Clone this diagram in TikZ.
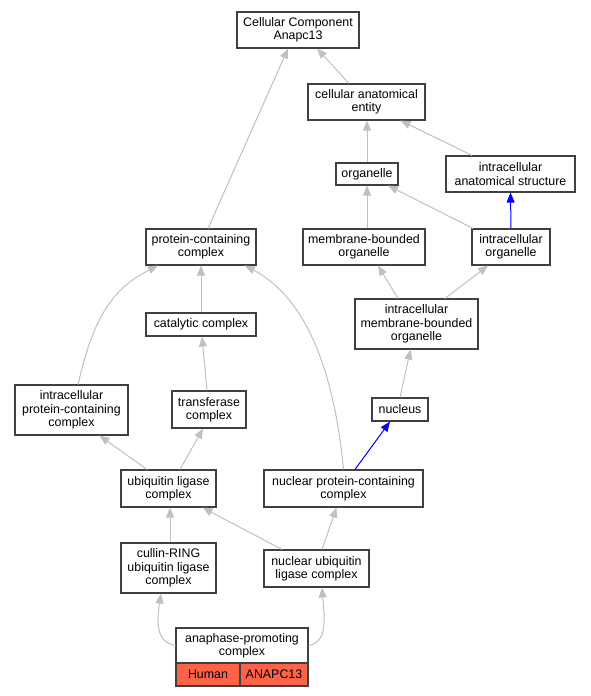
\documentclass[tikz,border=0pt]{standalone}
\usepackage{fontspec}
\setmainfont{Liberation Sans}
\usetikzlibrary{arrows.meta}
\definecolor{edgegrey}{HTML}{C0C0C0}
\definecolor{boxline}{HTML}{404040}
\definecolor{tomatofill}{HTML}{FF6347}
\tikzset{
  box/.style={draw=boxline, line width=1.1pt, fill=white, inner sep=0pt, align=center,
    font=\fontsize{12.4}{13.4}\selectfont},
  edge/.style={draw=edgegrey, line width=1pt, -{Triangle[length=10pt,width=8pt]}},
  bedge/.style={draw=blue, line width=1pt, -{Triangle[length=10pt,width=8pt]}},
  cell/.style={box, fill=tomatofill},
}
\begin{document}
\begin{tikzpicture}[x=1pt,y=-1pt]
\useasboundingbox (0,0) rectangle (591,696);
% nodes
\node[box, minimum width=122pt, minimum height=36pt] (cc) at (298,30) {Cellular Component\\Anapc13};
\node[box, minimum width=117pt, minimum height=36pt] (cae) at (366.5,102) {cellular anatomical\\entity};
\node[box, minimum width=62pt, minimum height=22pt] (org) at (367,174) {organelle};
\node[box, minimum width=129pt, minimum height=36pt] (ias) at (510.5,174) {intracellular\\anatomical structure};
\node[box, minimum width=110pt, minimum height=36pt] (pcc) at (201,247) {protein-containing\\complex};
\node[box, minimum width=122pt, minimum height=36pt] (mbo) at (364,247) {membrane-bounded\\organelle};
\node[box, minimum width=78pt, minimum height=36pt] (io) at (511,247) {intracellular\\organelle};
\node[box, minimum width=110pt, minimum height=23pt] (cat) at (201,324.5) {catalytic complex};
\node[box, minimum width=123pt, minimum height=50pt] (imbo) at (416.5,324) {intracellular\\membrane-bounded\\organelle};
\node[box, minimum width=113pt, minimum height=50pt] (ipcc) at (71.5,410) {intracellular\\protein-containing\\complex};
\node[box, minimum width=74pt, minimum height=37pt] (tc) at (209,409.5) {transferase\\complex};
\node[box, minimum width=56pt, minimum height=23pt] (nuc) at (400,409.5) {nucleus};
\node[box, minimum width=95pt, minimum height=37pt] (ulc) at (168.5,488.5) {ubiquitin ligase\\complex};
\node[box, minimum width=159pt, minimum height=37pt] (npcc) at (343.5,488.5) {nuclear protein-containing\\complex};
\node[box, minimum width=95pt, minimum height=50pt] (crl) at (168.5,568) {cullin-RING\\ubiquitin ligase\\complex};
\node[box, minimum width=105pt, minimum height=37pt] (nulc) at (316.5,568.5) {nuclear ubiquitin\\ligase complex};
\node[box, minimum width=132pt, minimum height=35pt] (apc) at (242,645.5) {anaphase-promoting\\complex};
\node[cell, minimum width=64pt, minimum height=23pt] (hum) at (208,674.5) {Human};
\node[cell, minimum width=68pt, minimum height=23pt] (ana) at (274,674.5) {ANAPC13};
% edges
\draw[edge] ([xshift=-17.5pt]cae.north) -- ([xshift=19pt]cc.south);
\draw[edge] ([xshift=7pt]pcc.north) -- ([xshift=-10pt]cc.south);
\draw[edge] (org.north) -- (cae.south -| org.north);
\draw[edge] ([xshift=-38.5pt]ias.north) -- ([xshift=34pt]cae.south);
\draw[edge] (mbo.north -| org.south) -- (org.south);
\draw[edge] ([xshift=-38pt]io.north) -- ([xshift=21pt]org.south);
\draw[bedge] (io.north) -- (ias.south);
\draw[edge] (cat.north) -- (pcc.south);
\draw[edge] ([xshift=-18.5pt]imbo.north) -- ([xshift=14pt]mbo.south);
\draw[edge] ([xshift=28.5pt]imbo.north) -- ([xshift=-23pt]io.south);
\draw[edge] ([xshift=6.5pt]ipcc.north) .. controls (93,320) and (110,290) .. ([xshift=-43pt]pcc.south);
\draw[edge] ([xshift=-2pt]tc.north) -- ([xshift=1pt]cat.south);
\draw[edge] (npcc.north) .. controls (335,380) and (310,300) .. ([xshift=44pt]pcc.south);
\draw[edge] (nuc.north) -- ([xshift=-6pt]imbo.south);
\draw[bedge] ([xshift=11.5pt]npcc.north) -- ([xshift=-10pt]nuc.south);
\draw[edge] ([xshift=-21.5pt]ulc.north) -- ([xshift=28pt]ipcc.south);
\draw[edge] ([xshift=11.5pt]ulc.north) -- ([xshift=-6pt]tc.south);
\draw[edge] ([xshift=1.5pt]crl.north) -- ([xshift=1.5pt]ulc.south);
\draw[edge] ([xshift=-34.5pt]nulc.north) -- ([xshift=34pt]ulc.south);
\draw[edge] ([xshift=5.5pt]nulc.north) -- ([xshift=-7pt]npcc.south);
\draw[edge] (apc.west) .. controls (155,642) and (157,620) .. ([xshift=-7.5pt]crl.south);
\draw[edge] (apc.east) .. controls (329,642) and (324,615) .. ([xshift=5.5pt]nulc.south);
\end{tikzpicture}
\end{document}
